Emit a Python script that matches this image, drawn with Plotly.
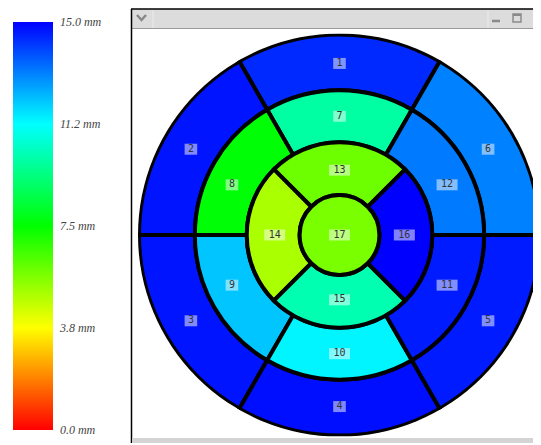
import plotly.graph_objects as go

# ---- data ----
segments = [str(i) for i in range(1, 18)]
values = [14.4, 14.7, 14.7, 14.8, 14.6, 13.1,   # basal 1-6
          9.9, 7.6, 12.1, 11.4, 14.6, 13.2,     # mid 7-12
          5.9, 5.0, 10.1, 15.0,                 # apical 13-16
          5.7]                                  # apex 17
seg_theta = [90, 150, 210, 270, 330, 30,
             90, 150, 210, 270, 330, 30,
             90, 180, 270, 0,
             0]
seg_width = [60] * 6 + [60] * 6 + [90] * 4 + [360]
seg_base = [145] * 6 + [93] * 6 + [40] * 4 + [0]
seg_outer = [201] * 6 + [145] * 6 + [93] * 4 + [40]
label_r = [172] * 6 + [119] * 6 + [65] * 4 + [0]
label_theta = [90, 150, 210, 270, 330, 30,
               90, 155, 205, 270, 335, 25,
               90, 180, 270, 0,
               0]
tick_vals = [0, 3.75, 7.5, 11.25, 15]
tick_text = ["0.0 mm", "3.8 mm", "7.5 mm", "11.2 mm", "15.0 mm"]

# page body adds an 8px margin; figure fills the rest of the 541x445 window
OFF = 8
W, H = 541 - OFF, 445 - OFF
colorscale = [[0.0, "#ff0000"], [0.125, "#ff8000"], [0.25, "#ffff00"],
              [0.5, "#00ff00"], [0.75, "#00ffff"], [1.0, "#0000ff"]]


def px(x):
    return (x - OFF) / W


def py(y):
    return 1 - (y - OFF) / H


fig = go.Figure()
fig.add_trace(go.Barpolar(
    theta=seg_theta, width=seg_width, base=seg_base,
    r=[o - b for o, b in zip(seg_outer, seg_base)],
    marker=dict(color=values, colorscale=colorscale, cmin=0, cmax=15,
                line=dict(color="black", width=4),
                colorbar=dict(x=px(13), xanchor="left", xref="container",
                              y=py(226), yanchor="middle", yref="container",
                              xpad=0, ypad=0,
                              lenmode="pixels", len=408, thickness=40,
                              outlinewidth=0, tickvals=tick_vals, ticktext=tick_text,
                              ticks="outside", ticklen=5, tickcolor="rgba(0,0,0,0)",
                              tickfont=dict(family="Liberation Serif", size=12,
                                            color="#444", style="italic"))),
    opacity=1, hoverinfo="skip", showlegend=False))


def lw(t):
    return 9 if len(t) == 1 else 15


fig.add_trace(go.Scatterpolar(
    r=label_r, theta=label_theta, mode="markers+text", text=segments,
    textposition="middle center",
    textfont=dict(family="DejaVu Sans Mono", size=10, color="#333333"),
    marker=dict(symbol="line-ew", size=[lw(s) for s in segments],
                line=dict(width=11, color="rgba(255,255,255,0.72)")),
    hoverinfo="skip", showlegend=False))

cx, cy, R = 340, 235, 202
fig.update_layout(
    width=W, height=H, margin=dict(l=0, r=0, t=0, b=0, autoexpand=False),
    paper_bgcolor="white", plot_bgcolor="white",
    polar=dict(
        domain=dict(x=[px(cx - R), 1.0], y=[py(cy + R), py(cy - R)]),
        bgcolor="rgba(0,0,0,0)",
        radialaxis=dict(range=[0, R], visible=False, showgrid=False),
        angularaxis=dict(rotation=0, direction="counterclockwise", visible=False,
                         showgrid=False, showline=False, ticks=""),
    ),
)

shapes = [
    # title bar
    dict(type="rect", xref="paper", yref="paper", x0=px(131), x1=px(545), y0=py(9), y1=py(28),
         fillcolor="#dcdcdc", line=dict(width=0), layer="below"),
    dict(type="line", xref="paper", yref="paper", x0=px(131), x1=px(545), y0=py(28.5), y1=py(28.5),
         line=dict(color="#9a9a9a", width=1), layer="below"),
    dict(type="line", xref="paper", yref="paper", x0=px(153), x1=px(153), y0=py(10), y1=py(28),
         line=dict(color="#ececec", width=1), layer="below"),
    dict(type="line", xref="paper", yref="paper", x0=px(488), x1=px(488), y0=py(10), y1=py(28),
         line=dict(color="#ececec", width=1), layer="below"),
    # window border
    dict(type="line", xref="paper", yref="paper", x0=px(131), x1=px(545), y0=py(9), y1=py(9),
         line=dict(color="black", width=1.5), layer="below"),
    dict(type="line", xref="paper", yref="paper", x0=px(131.5), x1=px(131.5), y0=py(9), y1=py(443),
         line=dict(color="black", width=1.5), layer="below"),
    # bottom bar
    dict(type="rect", xref="paper", yref="paper", x0=px(132), x1=px(545), y0=py(438), y1=py(443),
         fillcolor="#d4d4d4", line=dict(width=0), layer="below"),
    # chevron
    dict(type="path", xref="paper", yref="paper",
         path=f"M {px(137)} {py(15)} L {px(141.5)} {py(20)} L {px(146)} {py(15)}",
         line=dict(color="#888888", width=2.5), layer="below"),
    # minimize
    dict(type="line", xref="paper", yref="paper", x0=px(492), x1=px(500), y0=py(21), y1=py(21),
         line=dict(color="#8a8a8a", width=2.5), layer="below"),
    # maximize
    dict(type="rect", xref="paper", yref="paper", x0=px(513), x1=px(521), y0=py(14), y1=py(22),
         line=dict(color="#8a8a8a", width=1.5), layer="below"),
    dict(type="line", xref="paper", yref="paper", x0=px(513), x1=px(521), y0=py(15), y1=py(15),
         line=dict(color="#8a8a8a", width=2), layer="below"),
    # close
    dict(type="path", xref="paper", yref="paper",
         path=f"M {px(535)} {py(14)} L {px(542)} {py(21)} M {px(535)} {py(21)} L {px(542)} {py(14)}",
         line=dict(color="#8a8a8a", width=2.5), layer="below"),
]
fig.update_layout(shapes=shapes)

fig.write_html("out.html")
